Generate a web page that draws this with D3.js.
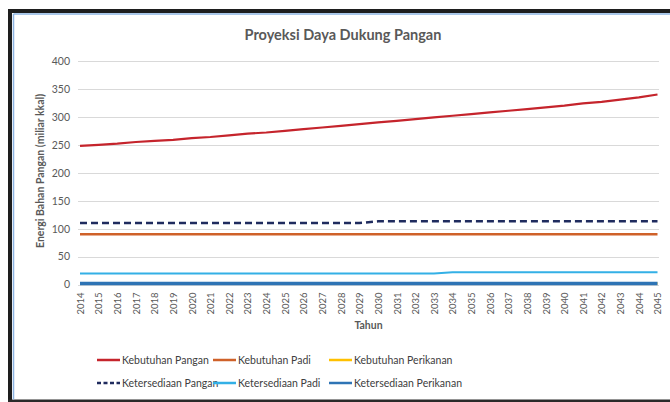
<!DOCTYPE html>
<html>
<head>
<meta charset="utf-8">
<script src="https://cdn.jsdelivr.net/npm/d3@7"></script>
<style>
    body { margin: 0; background: #fff; }
    svg text { font-family: Lato, "Open Sans", sans-serif; }
</style>
</head>
<body>
<div id="chart"></div>
<script>
// --- Data ---
const years = d3.range(2014, 2046).map(String);
const yTicks = [0, 50, 100, 150, 200, 250, 300, 350, 400];

const kebutuhanPangan = [248, 250, 252, 255, 257, 259, 262, 264, 267, 270, 272, 275, 278, 281, 284, 287,
    290, 293, 296, 299, 302, 305, 308, 311, 314, 317, 320, 324, 327, 331, 335, 340];
const kebutuhanPadi = years.map(() => 90);
const kebutuhanPerikanan = years.map(() => 2);
const ketersediaanPangan = [110, 110, 110, 110, 110, 110, 110, 110, 110, 110, 110, 110, 110, 110, 110, 110,
    113, 113, 113, 113, 113, 113, 113, 113, 113, 113, 113, 113, 113, 113, 113, 113];
const ketersediaanPadi = [19.5, 19.5, 19.5, 19.5, 19.5, 19.5, 19.5, 19.5, 19.5, 19.5, 19.5, 19.5, 19.5, 19.5, 19.5, 19.5,
    19.5, 19.5, 19.5, 19.5, 22, 22, 22, 22, 22, 22, 22, 22, 22, 22, 22, 22];
const ketersediaanPerikanan = years.map(() => 2);

const series = [
    { name: 'Kebutuhan Pangan', values: kebutuhanPangan, color: '#C5242C', width: 2.2, dash: null },
    { name: 'Kebutuhan Padi', values: kebutuhanPadi, color: '#CF6129', width: 2.5, dash: null },
    { name: 'Kebutuhan Perikanan', values: kebutuhanPerikanan, color: '#FFC000', width: 2.5, dash: null },
    { name: 'Ketersediaan Pangan', values: ketersediaanPangan, color: '#1F2B5E', width: 2.5, dash: '7,4' },
    { name: 'Ketersediaan Padi', values: ketersediaanPadi, color: '#33B0E6', width: 2, dash: null },
    { name: 'Ketersediaan Perikanan', values: ketersediaanPerikanan, color: '#2E74B5', width: 3.5, dash: null }
];

// --- Layout ---
const W = 670, H = 402;
const plot = { left: 78, right: 659, top: 61, bottom: 284.5 };

const svg = d3.select('#chart').append('svg')
    .attr('width', W)
    .attr('height', H);

// frame (screenshot border)
svg.append('rect').attr('width', W).attr('height', H).attr('fill', '#fff');
svg.append('rect').attr('x', 8).attr('y', 9).attr('width', W).attr('height', 4).attr('fill', '#1e1e1e');
svg.append('rect').attr('x', 8).attr('y', 9).attr('width', 4).attr('height', H).attr('fill', '#1e1e1e');
svg.append('rect').attr('x', 8).attr('y', 399.5).attr('width', W).attr('height', 3).attr('fill', '#2a2a2a');
svg.append('line').attr('x1', 13.5).attr('x2', W).attr('y1', 14).attr('y2', 14)
    .attr('stroke', '#8DB4E2').attr('stroke-width', 1.5);
svg.append('line').attr('x1', 13.5).attr('x2', 13.5).attr('y1', 14).attr('y2', 399.5)
    .attr('stroke', '#8DB4E2').attr('stroke-width', 1.5);

// --- Scales ---
const x = d3.scalePoint().domain(years).range([80, 657.5]);
const y = d3.scaleLinear().domain([0, 400]).range([plot.bottom, plot.top]);

// gridlines
svg.append('g')
    .selectAll('line')
    .data(yTicks)
    .enter()
    .append('line')
    .attr('x1', plot.left)
    .attr('x2', plot.right)
    .attr('y1', d => Math.round(y(d)) + 0.5)
    .attr('y2', d => Math.round(y(d)) + 0.5)
    .attr('stroke', '#D9D9D9')
    .attr('stroke-width', 1);

// y axis labels
const yAxis = svg.append('g')
    .attr('transform', `translate(${plot.left - 8},0)`)
    .call(d3.axisLeft(y).tickValues(yTicks).tickSize(0).tickPadding(0));
yAxis.select('.domain').remove();
yAxis.selectAll('text')
    .attr('fill', '#595959')
    .style('font-size', '10.5px');

// x axis labels (rotated)
const xAxis = svg.append('g')
    .attr('transform', `translate(0,${plot.bottom + 8})`)
    .call(d3.axisBottom(x).tickSize(0).tickPadding(0));
xAxis.select('.domain').remove();
xAxis.selectAll('text')
    .attr('fill', '#595959')
    .style('font-size', '9.5px')
    .attr('text-anchor', 'end')
    .attr('dy', '0.35em')
    .attr('transform', 'rotate(-90)');

// lines
const line = d3.line()
    .x((d, i) => x(years[i]))
    .y(d => y(d));

svg.append('g')
    .selectAll('path')
    .data(series)
    .enter()
    .append('path')
    .attr('d', d => line(d.values))
    .attr('fill', 'none')
    .attr('stroke', d => d.color)
    .attr('stroke-width', d => d.width)
    .attr('stroke-dasharray', d => d.dash);

// titles
svg.append('text')
    .attr('x', 343)
    .attr('y', 40)
    .attr('text-anchor', 'middle')
    .attr('fill', '#595959')
    .style('font-size', '14.5px')
    .style('font-weight', 'bold')
    .text('Proyeksi Daya Dukung Pangan');

svg.append('text')
    .attr('x', (plot.left + plot.right) / 2)
    .attr('y', 329)
    .attr('text-anchor', 'middle')
    .attr('fill', '#595959')
    .style('font-size', '10.5px')
    .style('font-weight', 'bold')
    .text('Tahun');

svg.append('text')
    .attr('transform', 'translate(44,171) rotate(-90)')
    .attr('text-anchor', 'middle')
    .attr('fill', '#595959')
    .style('font-size', '10.5px')
    .style('font-weight', 'bold')
    .text('Energi Bahan Pangan (miliar kkal)');

// legend
const legendCols = [97, 213, 329];
const legendRows = [360, 383];
const legend = svg.append('g')
    .selectAll('g')
    .data(series)
    .enter()
    .append('g')
    .attr('transform', (d, i) => `translate(${legendCols[i % 3]},${legendRows[Math.floor(i / 3)]})`);

legend.append('line')
    .attr('x1', 0)
    .attr('x2', 23)
    .attr('stroke', d => d.color)
    .attr('stroke-width', 2.5)
    .attr('stroke-dasharray', d => d.dash ? '4,2.5' : null);

legend.append('text')
    .attr('x', 25)
    .attr('dy', '0.35em')
    .attr('fill', '#404040')
    .style('font-size', '10.5px')
    .text(d => d.name);
</script>
</body>
</html>
